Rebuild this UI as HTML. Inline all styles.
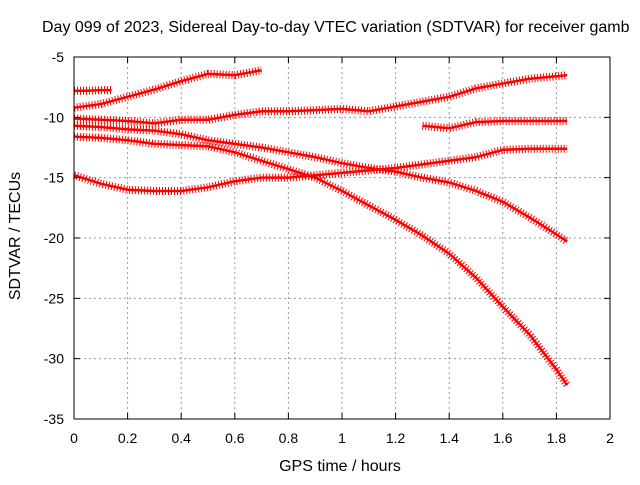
<!DOCTYPE html>
<html><head><meta charset="utf-8"><style>
body{margin:0;background:#fff;}
svg text{font-family:"Liberation Sans",sans-serif;fill:#000;}
</style></head><body>
<svg id="chart" width="640" height="480" viewBox="0 0 640 480">
<text x="42" y="32" font-size="16">Day 099 of 2023, Sidereal Day-to-day VTEC variation (SDTVAR) for receiver gamb</text>
<g id="grid"></g>
<g id="series"></g>
<rect x="74" y="57" width="536" height="362" fill="none" stroke="#000" stroke-width="1"/>
<g id="ticks"></g>
<text x="340" y="471" font-size="16" text-anchor="middle">GPS time / hours</text>
<text transform="translate(20,236) rotate(-90)" font-size="16" text-anchor="middle">SDTVAR / TECUs</text>
</svg>
<script>
const xTicks=[0,0.2,0.4,0.6,0.8,1,1.2,1.4,1.6,1.8,2];
const xTickLabels=["0","0.2","0.4","0.6","0.8","1","1.2","1.4","1.6","1.8","2"];
const yTicks=[-5,-10,-15,-20,-25,-30,-35];
const yTickLabels=["-5","-10","-15","-20","-25","-30","-35"];
const s1t=[0,0.05,0.1,0.14];
const s1v=[-7.8,-7.8,-7.75,-7.75];
const s2t=[0,0.1,0.2,0.3,0.4,0.5,0.6,0.7];
const s2v=[-9.2,-8.9,-8.3,-7.7,-7.0,-6.4,-6.5,-6.1];
const s3t=[0,0.1,0.2,0.3,0.4,0.5,0.6,0.7,0.8,0.9,1.0,1.1,1.2,1.3,1.4,1.5,1.6,1.7,1.8,1.84];
const s3v=[-10.1,-10.2,-10.3,-10.5,-10.2,-10.2,-9.8,-9.5,-9.5,-9.4,-9.3,-9.5,-9.1,-8.7,-8.3,-7.6,-7.2,-6.8,-6.6,-6.5];
const s4t=[1.3,1.4,1.5,1.6,1.7,1.84];
const s4v=[-10.7,-10.9,-10.4,-10.3,-10.3,-10.3];
const s5t=[0,0.1,0.2,0.3,0.4,0.5,0.6,0.7,0.8,0.9,1.0,1.1,1.2,1.3,1.4,1.5,1.6,1.7,1.8,1.84];
const s5v=[-10.7,-10.8,-11.0,-11.1,-11.4,-11.9,-12.2,-12.5,-12.9,-13.3,-13.8,-14.2,-14.5,-15.0,-15.4,-16.1,-17.0,-18.3,-19.7,-20.3];
const s6t=[0,0.1,0.2,0.3,0.4,0.5,0.6,0.7,0.8,0.9,1.0,1.1,1.2,1.3,1.4,1.5,1.6,1.7,1.8,1.84];
const s6v=[-11.6,-11.7,-11.9,-12.2,-12.3,-12.4,-12.9,-13.6,-14.3,-15.0,-16.1,-17.3,-18.5,-19.8,-21.3,-23.3,-25.7,-28.0,-30.9,-32.2];
const s7t=[0,0.1,0.2,0.3,0.4,0.5,0.6,0.7,0.8,0.9,1.0,1.1,1.2,1.3,1.4,1.5,1.6,1.7,1.8,1.84];
const s7v=[-14.8,-15.5,-16.0,-16.1,-16.1,-15.8,-15.3,-15.0,-15.0,-14.8,-14.6,-14.4,-14.2,-13.9,-13.6,-13.3,-12.7,-12.6,-12.6,-12.6];
const allSeries=[[s1t,s1v],[s2t,s2v],[s3t,s3v],[s4t,s4v],[s5t,s5v],[s6t,s6v],[s7t,s7v]];
const NS="http://www.w3.org/2000/svg";
function X(t){return 74+t*268;}
function Y(v){return 57+(-5-v)*362/30;}
const grid=document.getElementById('grid'),ticks=document.getElementById('ticks'),ser=document.getElementById('series');
xTicks.forEach((t,i)=>{
  if(i>0&&i<xTicks.length-1){const l=document.createElementNS(NS,'line');
  l.setAttribute('x1',X(t));l.setAttribute('x2',X(t));l.setAttribute('y1',57);l.setAttribute('y2',419);
  l.setAttribute('stroke','#999');l.setAttribute('stroke-dasharray','2 3');
  
  grid.appendChild(l);}
  const tk=document.createElementNS(NS,'path');
  tk.setAttribute('d',`M${X(t)} 419v-6M${X(t)} 57v6`);tk.setAttribute('stroke','#000');
  
  ticks.appendChild(tk);
  const tx=document.createElementNS(NS,'text');tx.setAttribute('x',X(t));tx.setAttribute('y',443);
  tx.setAttribute('font-size','14');tx.setAttribute('text-anchor','middle');tx.textContent=xTickLabels[i];
  
  ticks.appendChild(tx);
});
yTicks.forEach((v,i)=>{
  if(i>0&&i<yTicks.length-1){const l=document.createElementNS(NS,'line');
  l.setAttribute('x1',74);l.setAttribute('x2',610);l.setAttribute('y1',Y(v));l.setAttribute('y2',Y(v));
  l.setAttribute('stroke','#999');l.setAttribute('stroke-dasharray','2 3');
  
  grid.appendChild(l);}
  const tk=document.createElementNS(NS,'path');
  tk.setAttribute('d',`M74 ${Y(v)}h6M610 ${Y(v)}h-6`);tk.setAttribute('stroke','#000');
  
  ticks.appendChild(tk);
  const tx=document.createElementNS(NS,'text');tx.setAttribute('x',64);tx.setAttribute('y',Y(v)+5);
  tx.setAttribute('font-size','14');tx.setAttribute('text-anchor','end');tx.textContent=yTickLabels[i];
  
  ticks.appendChild(tx);
});
allSeries.forEach(([ts,vs],k)=>{
  const pts=ts.map((t,i)=>X(t)+','+Y(vs[i])).join(' ');
  const a=document.createElementNS(NS,'polyline');a.setAttribute('points',pts);
  a.setAttribute('fill','none');a.setAttribute('stroke','#f00');a.setAttribute('stroke-width','2.5');
  
  ser.appendChild(a);
  const b=document.createElementNS(NS,'polyline');b.setAttribute('points',pts);
  b.setAttribute('fill','none');b.setAttribute('stroke','#f00');b.setAttribute('stroke-width','8');
  b.setAttribute('stroke-dasharray','1 2');
  
  ser.appendChild(b);
});
</script>
</body></html>
